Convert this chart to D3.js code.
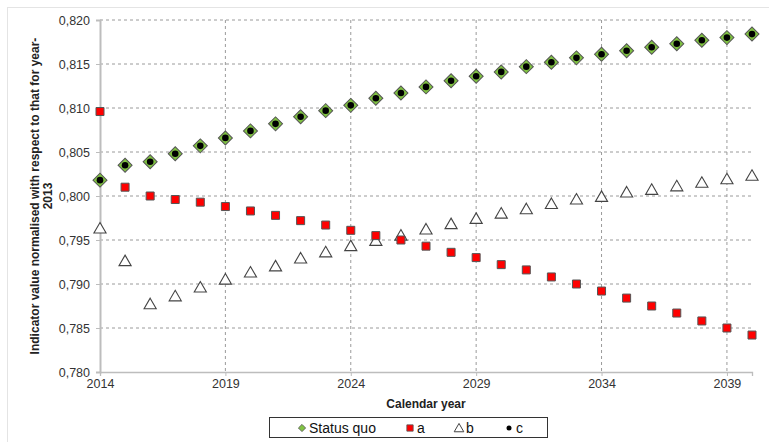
<!DOCTYPE html>
<html>
<head>
<meta charset="utf-8">
<script src="https://cdn.jsdelivr.net/npm/d3@7"></script>
<style>
  body { margin: 0; background: #fff; }
  text { font-family: Arial, "Liberation Sans", sans-serif; }
</style>
</head>
<body>
<svg id="chart" width="769" height="442"></svg>
<script>
// years on the x axis
var years = d3.range(2014, 2041);

// series values
var statusQuo = [0.8018, 0.8035, 0.8039, 0.8048, 0.8057, 0.8066, 0.8074, 0.8082, 0.8090, 0.8097,
  0.8103, 0.8111, 0.8117, 0.8124, 0.8131, 0.8136, 0.8141, 0.8147, 0.8152, 0.8157,
  0.8161, 0.8165, 0.8169, 0.8173, 0.8177, 0.8180, 0.8184];
var seriesA = [0.8096, 0.8010, 0.8000, 0.7996, 0.7993, 0.7988, 0.7983, 0.7978, 0.7972, 0.7967,
  0.7961, 0.7955, 0.7950, 0.7943, 0.7936, 0.7930, 0.7922, 0.7916, 0.7908, 0.7900,
  0.7892, 0.7884, 0.7875, 0.7867, 0.7858, 0.7850, 0.7842];
var seriesB = [0.7963, 0.7926, 0.7877, 0.7886, 0.7896, 0.7905, 0.7913, 0.7920, 0.7929, 0.7936,
  0.7943, 0.7949, 0.7955, 0.7962, 0.7968, 0.7974, 0.7980, 0.7985, 0.7991, 0.7996,
  0.7999, 0.8004, 0.8007, 0.8011, 0.8015, 0.8019, 0.8023];
var seriesC = statusQuo.slice();

var xTicks = [2014, 2019, 2024, 2029, 2034, 2039];
var yTicks = [0.780, 0.785, 0.790, 0.795, 0.800, 0.805, 0.810, 0.815, 0.820];
var legendNames = ["Status quo", "a", "b", "c"];

var svg = d3.select("#chart");

// outer frame (faint)
svg.append("rect").attr("x", 7.5).attr("y", 7.5).attr("width", 770).attr("height", 450)
  .style("fill", "none").style("stroke", "#e4e4e4");

var pLeft = 100, pRight = 752, pTop = 20, pBottom = 372;

var x = d3.scaleLinear().domain([2014, 2040]).range([pLeft, pRight]);
var y = d3.scaleLinear().domain([0.780, 0.820]).range([pBottom, pTop]);

var fmt = function(d) { return d3.format(".3f")(d).replace(".", ","); };

// gridlines
svg.append("g").selectAll("line").data(yTicks.filter(function(d) { return d > 0.780; }))
  .enter().append("line")
  .attr("x1", pLeft).attr("x2", pRight)
  .attr("y1", function(d) { return y(d); }).attr("y2", function(d) { return y(d); })
  .style("stroke", "#9a9a9a").style("stroke-dasharray", "3,3");

svg.append("g").selectAll("line").data(xTicks.filter(function(d) { return d > 2014; }))
  .enter().append("line")
  .attr("x1", function(d) { return x(d); }).attr("x2", function(d) { return x(d); })
  .attr("y1", pTop).attr("y2", pBottom)
  .style("stroke", "#9a9a9a").style("stroke-dasharray", "3,3");

// axes
var yAxis = svg.append("g").attr("transform", "translate(" + pLeft + ",0)")
  .call(d3.axisLeft(y).tickValues(yTicks).tickFormat(fmt).tickSize(4).tickPadding(6));
var xAxis = svg.append("g").attr("transform", "translate(0," + pBottom + ")")
  .call(d3.axisBottom(x).tickValues(xTicks).tickFormat(d3.format("d")).tickSize(4).tickPadding(3));

[yAxis, xAxis].forEach(function(a) {
  a.select(".domain").style("stroke", "#bdbdbd").style("stroke-width", 2);
  a.selectAll(".tick line").style("stroke", "#bdbdbd");
  a.selectAll(".tick text").style("font-size", "12.5px").style("fill", "#333");
});
xAxis.select(".domain").style("stroke-width", 1.3);

// axis titles
var yt = svg.append("text").attr("transform", "translate(39,196) rotate(-90)")
  .attr("text-anchor", "middle").style("font-size", "12px").style("font-weight", "bold").style("fill", "#222");
yt.append("tspan").attr("x", 0).attr("dy", 0).text("Indicator value normalised with respect to that for year-");
yt.append("tspan").attr("x", 0).attr("dy", 13).text("2013");

svg.append("text").attr("x", 426).attr("y", 408).attr("text-anchor", "middle")
  .style("font-size", "12px").style("font-weight", "bold").style("fill", "#222").text("Calendar year");

// markers
var diamond = d3.symbol().type(d3.symbolSquare).size(98);
var square = d3.symbol().type(d3.symbolSquare).size(64);
var triangle = d3.symbol().type(d3.symbolTriangle).size(64);

svg.append("g").selectAll("path").data(seriesB).enter().append("path")
  .attr("d", triangle)
  .attr("transform", function(d, i) { return "translate(" + x(years[i]) + "," + (y(d) + 1) + ")"; })
  .style("fill", "#fff").style("stroke", "#444").style("stroke-width", 1.1);

svg.append("g").selectAll("path").data(seriesA).enter().append("path")
  .attr("d", square)
  .attr("transform", function(d, i) { return "translate(" + x(years[i]) + "," + y(d) + ")"; })
  .style("fill", "#ff0000").style("stroke", "#555").style("stroke-width", 1);

svg.append("g").selectAll("path").data(statusQuo).enter().append("path")
  .attr("d", diamond)
  .attr("transform", function(d, i) { return "translate(" + x(years[i]) + "," + y(d) + ") rotate(45)"; })
  .style("fill", "#80c342").style("stroke", "#555").style("stroke-width", 1);

svg.append("g").selectAll("circle").data(seriesC).enter().append("circle")
  .attr("cx", function(d, i) { return x(years[i]); })
  .attr("cy", function(d) { return y(d); })
  .attr("r", 3.3).style("fill", "#000");

// legend
var lg = svg.append("g");
lg.append("rect").attr("x", 269.5).attr("y", 417.5).attr("width", 278).attr("height", 20)
  .style("fill", "#fff").style("stroke", "#333");
var lx = [302, 410, 459, 509];
var ly = 428;
lg.append("path").attr("d", d3.symbol().type(d3.symbolSquare).size(26))
  .attr("transform", "translate(" + lx[0] + "," + ly + ") rotate(45)")
  .style("fill", "#80c342").style("stroke", "#555").style("stroke-width", 0.8);
lg.append("path").attr("d", d3.symbol().type(d3.symbolSquare).size(40))
  .attr("transform", "translate(" + lx[1] + "," + ly + ")")
  .style("fill", "#ff0000").style("stroke", "#555").style("stroke-width", 0.8);
lg.append("path").attr("d", d3.symbol().type(d3.symbolTriangle).size(40))
  .attr("transform", "translate(" + lx[2] + "," + (ly + 1) + ")")
  .style("fill", "#fff").style("stroke", "#444").style("stroke-width", 1);
lg.append("circle").attr("cx", lx[3]).attr("cy", ly).attr("r", 2.5).style("fill", "#000");
lg.selectAll("text.lab").data(legendNames).enter().append("text")
  .attr("x", function(d, i) { return lx[i] + 7; }).attr("y", ly + 5)
  .style("font-size", "14px").style("fill", "#111").text(function(d) { return d; });
</script>
</body>
</html>
